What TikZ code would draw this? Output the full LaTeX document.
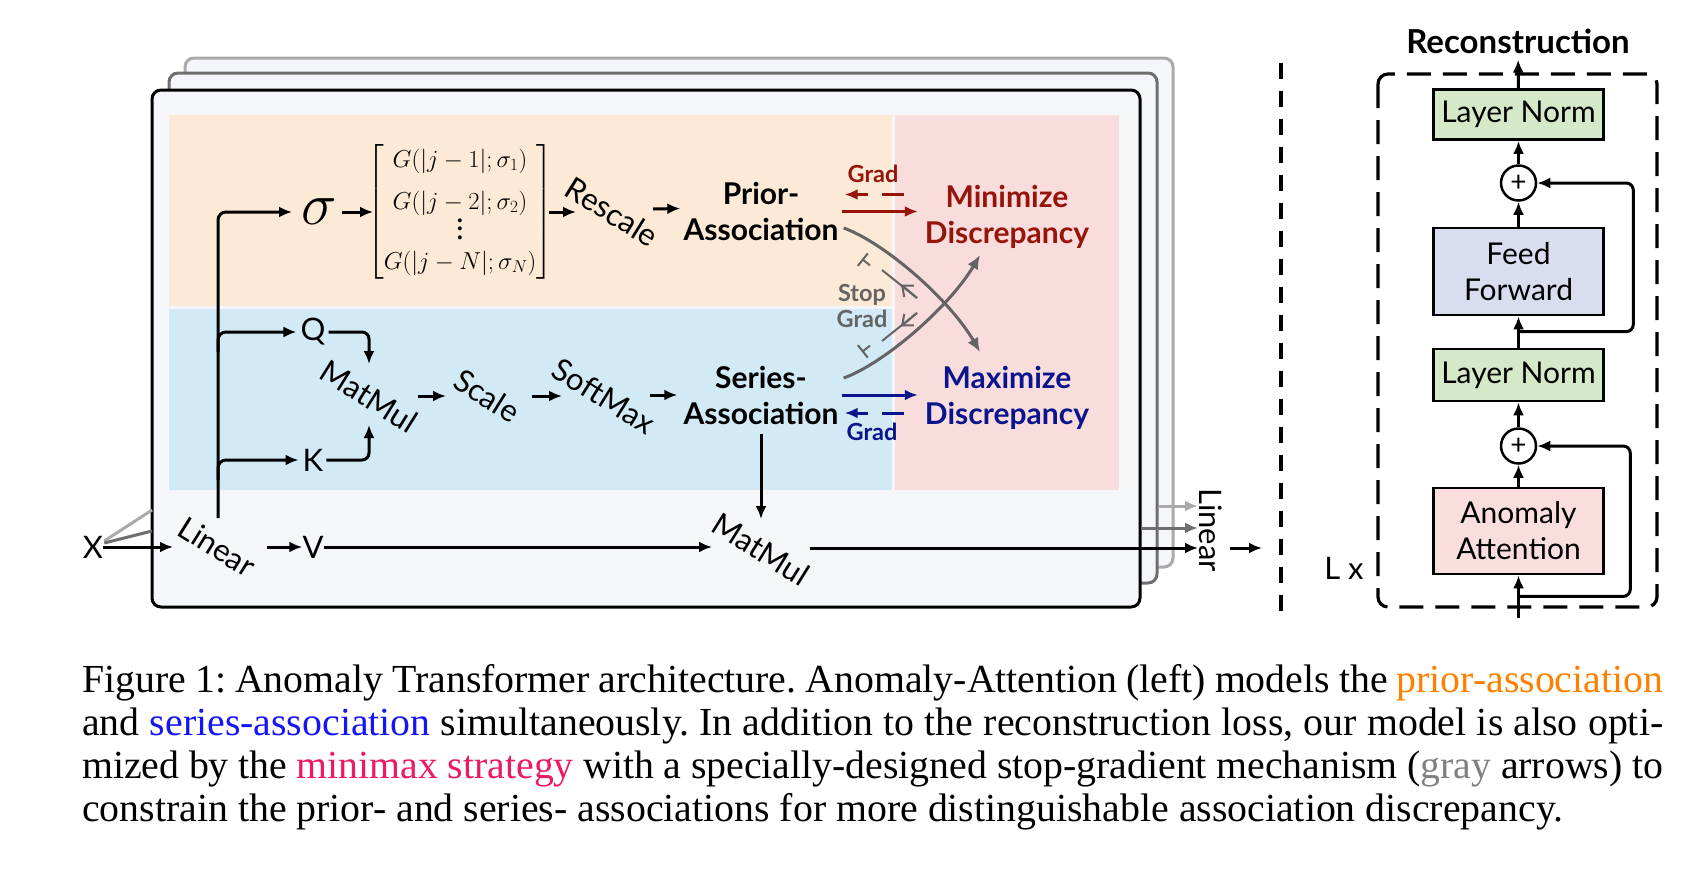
\RequirePackage{fix-cm}
\documentclass[tikz,border=0pt]{standalone}
\usepackage{amsmath}
\usepackage[no-math]{fontspec}
\setmainfont{Liberation Serif}
\newfontfamily\dfont{Lato}
\usetikzlibrary{arrows.meta,calc}
\frenchspacing
\newcommand\mydots{\vbox{\baselineskip=8.5pt\lineskiplimit=-20pt\hbox{\bfseries .}\hbox{\bfseries .}\hbox{\bfseries .}}}
\definecolor{peach}{RGB}{252,234,214}
\definecolor{seriesblue}{RGB}{210,234,245}
\definecolor{discpink}{RGB}{249,220,220}
\definecolor{panel}{RGB}{245,246,250}
\definecolor{darkred}{RGB}{150,20,10}
\definecolor{darkblue}{RGB}{10,20,140}
\definecolor{arrowgray}{RGB}{100,100,100}
\definecolor{layerthree}{RGB}{170,170,170}
\definecolor{layertwo}{RGB}{110,110,110}
\definecolor{lngreen}{RGB}{213,232,200}
\definecolor{fflav}{RGB}{218,220,240}
\definecolor{aapink}{RGB}{250,222,222}
\definecolor{caporange}{RGB}{255,127,0}
\definecolor{capblue}{RGB}{20,20,245}
\definecolor{capmag}{RGB}{238,25,100}
\definecolor{capgray}{RGB}{128,128,128}
\tikzset{
  lbl/.style={font=\dfont\fontsize{31}{37}\selectfont, inner sep=0pt},
  blbl/.style={font=\dfont\bfseries\fontsize{30}{36}\selectfont, align=center, inner sep=0pt},
  smb/.style={font=\dfont\bfseries\fontsize{23.5}{26}\selectfont, align=center, inner sep=0pt},
  rotlbl/.style={lbl, rotate=-32},
  arr/.style={line width=3pt, -{Latex[length=13pt,width=11pt]}},
  garr/.style={line width=3pt, color=arrowgray, -{Latex[length=14pt,width=12pt]}},
  sgline/.style={line width=2pt, color=arrowgray},
  blk/.style={draw, line width=2.8pt, minimum width=170pt, inner sep=0pt, font=\dfont\fontsize{30}{36}\selectfont, align=center},
  addc/.style={circle, draw, line width=2.5pt, minimum size=35pt, inner sep=0pt, fill=white, font=\dfont\fontsize{28}{28}\selectfont},
  sepline/.style={line width=3.4pt, dash pattern=on 16pt off 12pt},
  dshbox/.style={line width=3.2pt, dash pattern=on 24pt off 12pt},
  layerbox/.style={line width=3pt, fill=panel, rounded corners=9pt},
  capline/.style={font=\fontsize{39.8}{43}\selectfont, inner sep=0pt, anchor=base west},
}
\begin{document}
\begin{tikzpicture}[x=1pt,y=-1pt]
\useasboundingbox (0,0) rectangle (1704,873);
% stacked layers
\draw[layerbox, draw=layerthree] (185,58) rectangle (1173,567);
\draw[layerbox, draw=layertwo] (169,73) rectangle (1157,583);
\draw[layerbox, draw=black] (152,90) rectangle (1140,607);
% regions
\fill[peach] (169,115) rectangle (892,306);
\fill[seriesblue] (169,309) rectangle (892,490);
\fill[discpink] (895,115) rectangle (1119,490);

% nodes
\node[lbl] (x) at (93,547) {X};
\node[rotlbl] (lin) at (217,547) {Linear};
\node[lbl] (v) at (313,547) {V};
\node[inner sep=0pt] (sig) at (319,212) {\fontsize{60}{60}\selectfont$\sigma$};
\node[inner sep=0pt] (mat) at (460,212) {\fontsize{24.5}{30}\selectfont\setlength{\arraycolsep}{1.5pt}$\begin{bmatrix}G(|j-1|;\sigma_1)\\[12pt] G(|j-2|;\sigma_2)\\ \mydots\\ G(|j-N|;\sigma_N)\end{bmatrix}$};
\node[rotlbl] (resc) at (612,212) {Rescale};
\node[blbl] (prior) at (761,211.5) {Prior-\\Association};
\node[blbl, text=darkred] (minz) at (1007,216.5) {Minimize\\Discrepancy};
\node[lbl] (q) at (313,332) {Q};
\node[lbl] (k) at (313,460) {K};
\node[rotlbl] (mm1) at (369,396) {MatMul};
\node[rotlbl] (scl) at (487,396) {Scale};
\node[rotlbl] (sm) at (604,396) {SoftMax};
\node[blbl] (ser) at (761,395) {Series-\\Association};
\node[blbl, text=darkblue] (maxz) at (1007,398) {Maximize\\Discrepancy};
\node[rotlbl] (mm2) at (761,549) {MatMul};
\node[lbl, rotate=-90] (lin2) at (1211,530) {Linear};
\node[smb, text=darkred] (gr1) at (873,174) {Grad};
\node[smb, text=darkblue] (gr2) at (872,432) {Grad};
\node[smb, text=arrowgray] (sg) at (862,306) {Stop\\Grad};

% input lines
\coordinate (l3in) at (152,510);
\coordinate (l2in) at (152,531);
\draw[line width=3pt, color=layerthree] ($(x.east)+(1,-6)$) -- (l3in);
\draw[line width=3pt, color=layertwo] ($(x.east)+(1,-4)$) -- (l2in);
\draw[arr] (x) -- ($(lin)+(-44,0)$);
\draw[arr] ($(lin)+(50,0)$) -- (v);
\draw[arr] (v) -- ($(mm2)+(-49,-2)$);
\draw[arr] ($(mm2)+(49,-1)$) -- ($(lin2)+(-13,18)$);
\coordinate (l3out) at (1158,506);
\coordinate (l2out) at (1141,528);
\draw[arr, color=layerthree] (l3out) -- ($(lin2)+(-13,-24)$);
\draw[arr, color=layertwo] (l2out) -- ($(lin2)+(-13,-2)$);
\draw[arr] ($(lin2)+(19,18)$) -- ($(lin2)+(51,18)$);

% trunk and branches
\draw[arr, rounded corners=8pt] ($(lin)+(1,-29)$) |- ($(sig.west)+(-9,0)$);
\coordinate (bq) at (218,352);
\coordinate (bk) at (218,480);
\draw[arr, rounded corners=8pt] (bq) |- ($(q.west)+(-4,0)$);
\draw[arr, rounded corners=8pt] (bk) |- ($(k.west)+(-4,0)$);
\draw[arr, rounded corners=7pt] ($(q.east)+(3,0)$) -| ($(mm1)+(0,-32)$);
\draw[arr, rounded corners=7pt] ($(k.east)+(3,0)$) -| ($(mm1)+(0,29)$);
\draw[arr] ($(mm1)+(49,0)$) -- ($(scl)+(-41,0)$);
\draw[arr] ($(scl)+(45,0)$) -- ($(sm)+(-42,0)$);
\draw[arr] ($(sm)+(46,-1)$) -- ($(ser.west)+(-6,0)$);
\draw[arr] ($(ser.south)+(0,10)$) -- ($(mm2)+(0,-30)$);

% prior branch
\draw[arr] ($(sig)+(23,0)$) -- ($(mat)+(-87,0)$);
\draw[arr] ($(mat)+(89,0)$) -- ($(resc)+(-36,0)$);
\draw[arr] ($(resc)+(41,-3)$) -- ($(prior.west)+(-3,-3)$);

% gradient arrows
\coordinate (pe) at (prior.east);
\coordinate (mw) at (prior.east -| minz.west);
\draw[arr, color=darkred] ($(pe)+(3,0)$) -- ($(mw)+(-7,0)$);
\draw[arr, color=darkred, dash pattern=on 22pt off 14pt] ($(mw)+(-21,-17)$) -- ($(pe)+(6,-17)$);
\coordinate (se) at (ser.east);
\coordinate (xw) at (ser.east -| maxz.west);
\draw[arr, color=darkblue] ($(se)+(3,0)$) -- ($(xw)+(-7,0)$);
\draw[arr, color=darkblue, dash pattern=on 22pt off 14pt] ($(xw)+(-21,18)$) -- ($(se)+(6,18)$);

% crossing curves
\coordinate (c1a) at ($(pe)+(5,16.5)$);
\coordinate (c1b) at (980,352);
\draw[garr] (c1a) .. controls (885,243) and (950,300) .. (c1b);
\coordinate (c2a) at ($(se)+(5,-17)$);
\coordinate (c2b) at (980,255);
\draw[garr] (c2a) .. controls (885,363) and (950,306) .. (c2b);

% stop gradient marks
\coordinate (s1a) at (917,298); \coordinate (s1b) at (882,270); \coordinate (s1t) at (901,284.5);
\coordinate (s1c) at (862,259); \coordinate (s1d) at (870,265.4);
\draw[sgline] (s1a) -- (s1b);
\draw[sgline, -{Straight Barb[length=9pt,width=15pt]}] (s1a) -- (s1t);
\draw[sgline, {Bar[width=16pt]}-] (s1c) -- (s1d);
\coordinate (s2a) at (917,313); \coordinate (s2b) at (882,341); \coordinate (s2t) at (901,326.5);
\coordinate (s2c) at (862,352); \coordinate (s2d) at (870,345.6);
\draw[sgline] (s2a) -- (s2b);
\draw[sgline, -{Straight Barb[length=9pt,width=15pt]}] (s2a) -- (s2t);
\draw[sgline, {Bar[width=16pt]}-] (s2c) -- (s2d);

% right panel
\draw[sepline] (1281,63) -- (1281,613);
\draw[dshbox, rounded corners=10pt] (1378,74) rectangle (1657,607);
\node[blbl, font=\dfont\bfseries\fontsize{33}{36}\selectfont] (recon) at (1518,41) {Reconstruction};
\node[blk, fill=lngreen, minimum height=50pt] (ln2) at (1518.5,114.5) {Layer Norm};
\node[addc] (add2) at (1518.5,183) {+};
\node[blk, fill=fflav, minimum height=87pt] (ff) at (1518.5,271.5) {Feed\\Forward};
\node[blk, fill=lngreen, minimum height=52pt] (ln1) at (1518.5,375) {Layer Norm};
\node[addc] (add1) at (1518.5,446) {+};
\node[blk, fill=aapink, minimum height=86pt] (aa) at (1518.5,531) {Anomaly\\Attention};
\node[lbl] (lx) at (1344,568) {L x};
\coordinate (inp) at (1518.5,618);
\draw[arr] (inp) -- (aa);
\draw[arr] (aa) -- (add1);
\draw[arr] (add1) -- (ln1);
\draw[arr] (ln1) -- (ff);
\draw[arr] (ff) -- (add2);
\draw[arr] (add2) -- (ln2);
\draw[arr, shorten >=6pt] (ln2) -- (recon);
\coordinate (j1) at ($(aa.south)+(0,21)$);
\draw[arr, rounded corners=7pt] (j1) -| ($(add1.east)+(93,0)$) -- (add1.east);
\coordinate (j2) at ($(ln1.north)+(0,-16)$);
\draw[arr, rounded corners=7pt] (j2) -| ($(add2.east)+(96,0)$) -- (add2.east);

% caption
\node[capline] (cap1) at (82,692) {\hbox to 1581pt{Figure 1: Anomaly Transformer architecture. Anomaly-Attention (left) models the \textcolor{caporange}{prior-association}}};
\node[capline] (cap2) at (82,735) {\hbox to 1581pt{and \textcolor{capblue}{series-association} simultaneously. In addition to the reconstruction loss, our model is also opti-}};
\node[capline] (cap3) at (82,778) {\hbox to 1581pt{mized by the \textcolor{capmag}{minimax strategy} with a specially-designed stop-gradient mechanism (\textcolor{capgray}{gray} arrows) to}};
\node[capline] (cap4) at (82,821) {constrain the prior- and series- associations for more distinguishable association discrepancy.};
\end{tikzpicture}
\end{document}
